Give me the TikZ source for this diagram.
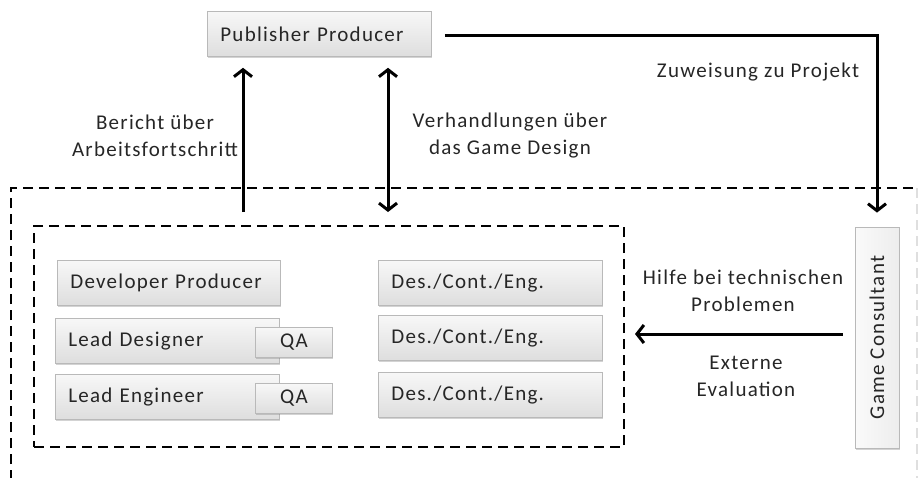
\documentclass[tikz,border=0pt]{standalone}
\usepackage{fontspec}
\setmainfont{Carlito}[LetterSpace=6]
\usetikzlibrary{arrows.meta,shadows,calc}
\begin{document}
\begin{tikzpicture}[x=1pt,y=-1pt,
  font=\fontsize{21pt}{27pt}\selectfont,
  box/.style={draw=gray!55, line width=0.8pt, top color=gray!6, bottom color=gray!26,
    anchor=north west, minimum height=45pt, inner xsep=13pt, inner ysep=0pt, align=left,
    text=black!85, drop shadow={opacity=0.35, shadow xshift=1pt, shadow yshift=-2pt}},
  qabox/.style={box, inner xsep=0pt, align=center, minimum height=30pt, minimum width=77pt},
  gcbox/.style={draw=gray!55, line width=0.8pt, left color=gray!4, right color=gray!14,
    minimum width=221pt, minimum height=44pt, rotate=90, inner sep=0pt, text=black!85,
    drop shadow={opacity=0.35, shadow xshift=1pt, shadow yshift=-2pt}},
  dbox/.style={draw=black, line width=2pt, dash pattern=on 10pt off 6pt},
  arr/.style={line width=3pt, -{Straight Barb[length=7pt,width=18pt,line width=3pt]}},
  darr/.style={line width=3pt, {Straight Barb[length=7pt,width=18pt,line width=3pt]}-{Straight Barb[length=7pt,width=18pt,line width=3pt]}},
  lbl/.style={text=black!85, inner sep=0pt}
]
\useasboundingbox (0,0) rectangle (919,477);
% outer dashed region
\draw[dbox] (11,480) -- (11,188) -- (914,188);
\draw[draw=gray!25, line width=1.5pt, dash pattern=on 10pt off 6pt] (917,188) -- (917,480);
% inner dashed box
\node[dbox, anchor=north west, minimum width=590pt, minimum height=221pt, inner sep=0pt] (inner) at (33,225) {};
% publisher producer
\node[box, text width=198pt] (pp) at (207,11) {Publisher Producer};
% left column
\node[box, text width=197pt] (dp) at (57,260) {Developer Producer};
\node[box, text width=198pt] (ld) at (55,318) {Lead Designer};
\node[qabox] (qa1) at (255,327) {QA};
\node[box, text width=198pt] (le) at (55,374) {Lead Engineer};
\node[qabox] (qa2) at (255,383) {QA};
% right column
\node[box, text width=198pt] (d1) at (378,260) {Des./Cont./Eng.};
\node[box, text width=198pt] (d2) at (378,315) {Des./Cont./Eng.};
\node[box, text width=198pt] (d3) at (378,372) {Des./Cont./Eng.};
% game consultant
\node[gcbox] (gc) at (877,337.5) {Game Consultant};
% connectors
\coordinate (b1) at (243,212);
\coordinate (b2) at (388,212);
\draw[arr, shorten >=11pt] (b1) -- (b1 |- pp.south);
\draw[darr, shorten >=11pt] (b2) -- (b2 |- pp.south);
\draw[arr, shorten <=13pt, shorten >=14pt] ([yshift=-2pt]pp.east) -| (gc.east);
\draw[arr, shorten <=12pt, shorten >=10pt] ([yshift=3.5pt]gc.north) -- ([yshift=3.5pt]gc.north -| inner.east);
% labels
\node[lbl, align=center] at (758,72) {Zuweisung zu Projekt};
\node[lbl, align=center] at (155,136) {Bericht über\\Arbeitsfortschritt};
\node[lbl, align=center] at (510,136) {Verhandlungen über\\das Game Design};
\node[lbl, align=center] at (743,291) {Hilfe bei technischen\\Problemen};
\node[lbl, align=center] at (746,376) {Externe\\Evaluation};
\end{tikzpicture}
\end{document}
